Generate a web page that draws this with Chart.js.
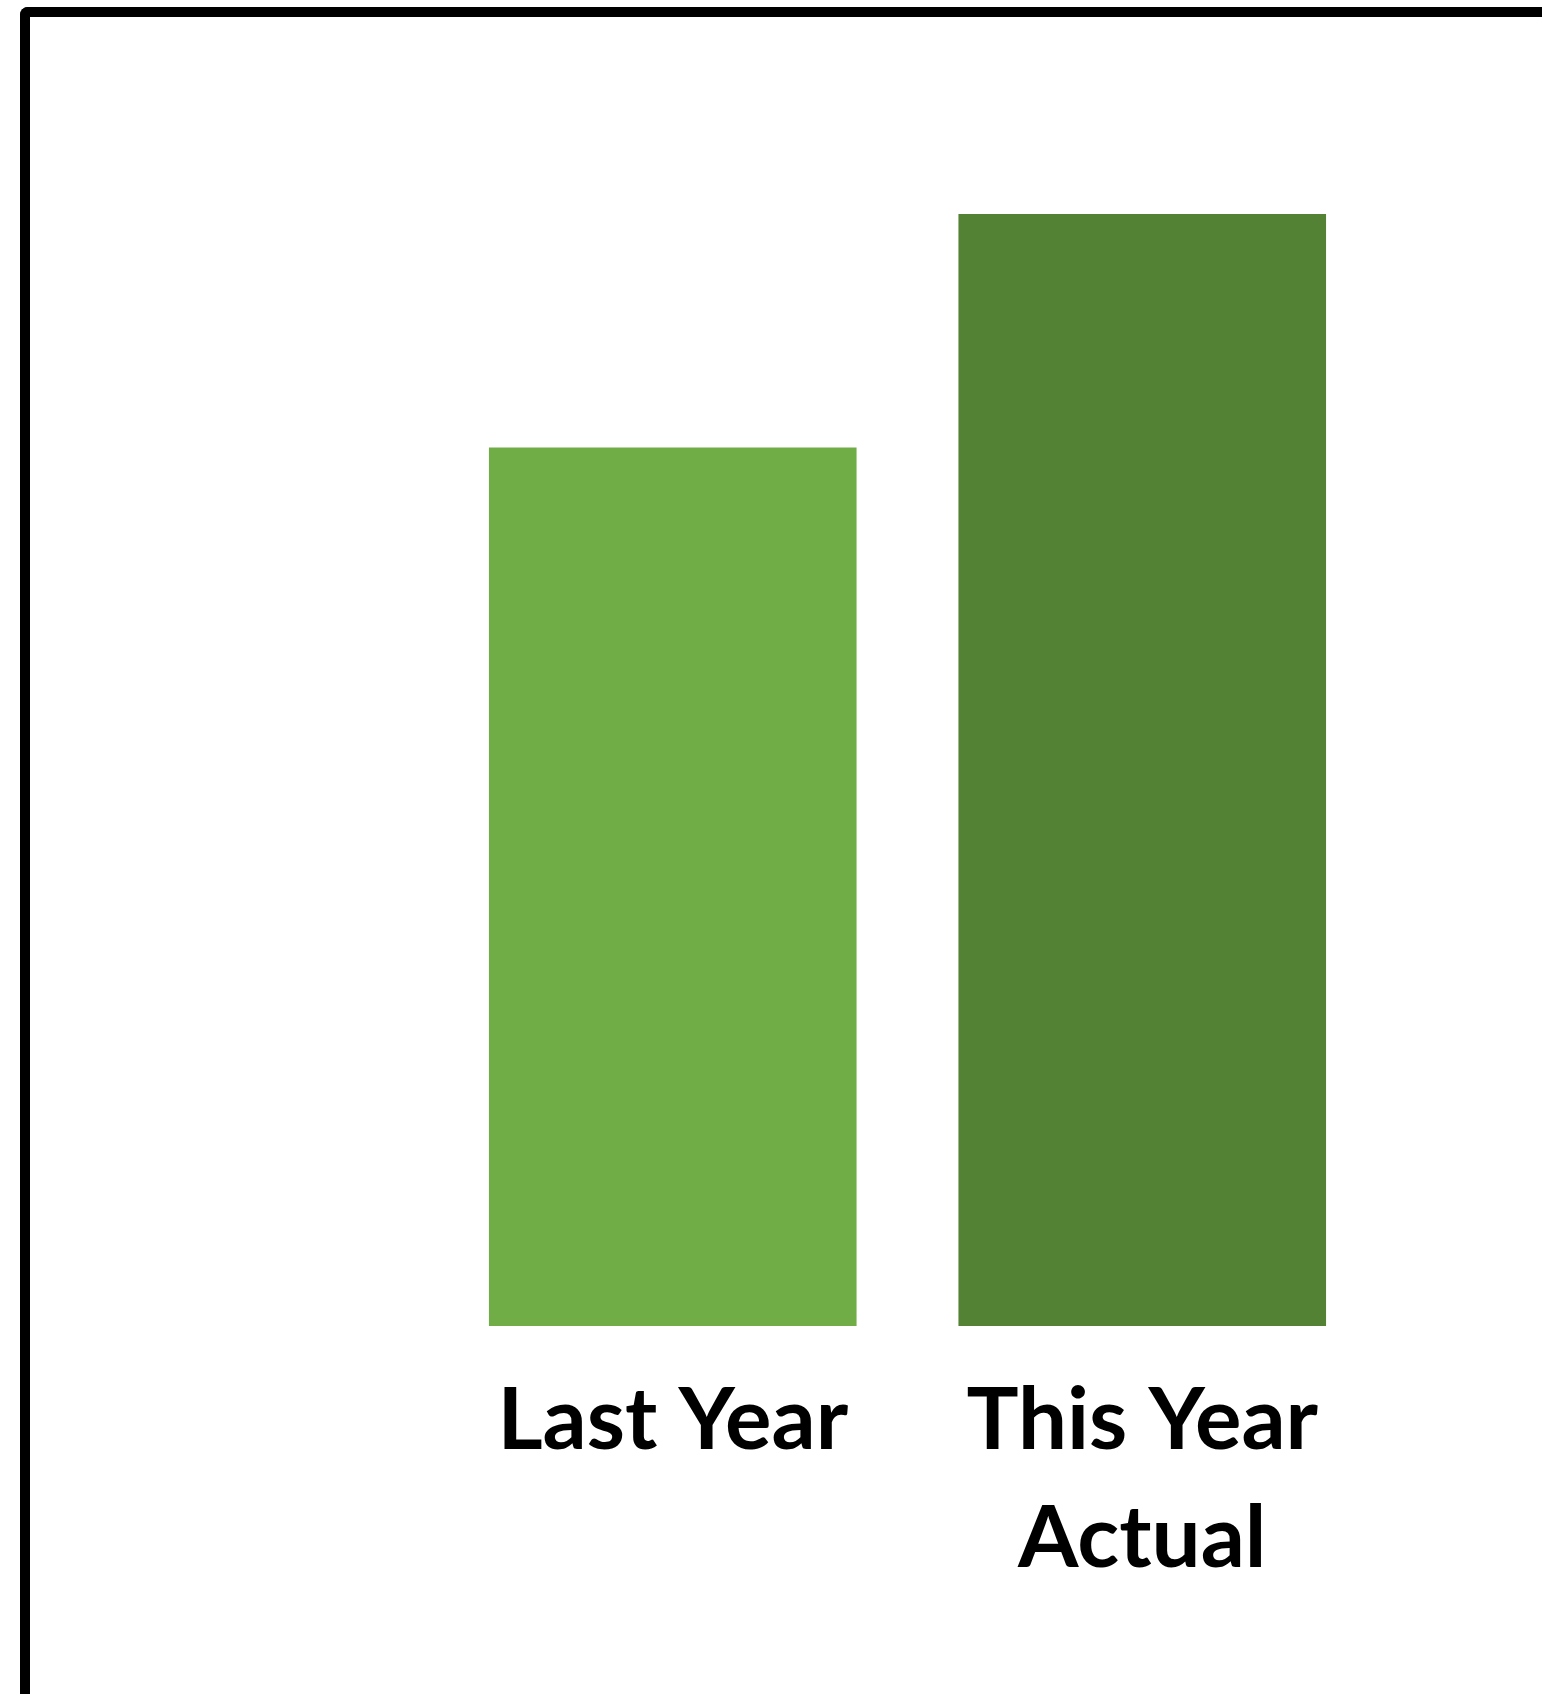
<!DOCTYPE html>
<html>
<head>
<meta charset="utf-8">
<script src="https://cdn.jsdelivr.net/npm/chart.js@4/dist/chart.umd.min.js"></script>
<style>
  html, body { margin: 0; padding: 0; background: #ffffff; }
  #wrap { position: relative; width: 1542px; height: 1694px; overflow: hidden; }
  /* open frame: only top and left edges are visible in the picture */
  #frame {
    position: absolute; left: 20px; top: 7px; width: 1600px; height: 1800px;
    border-top: 10px solid #000; border-left: 10px solid #000;
    border-top-left-radius: 8px;
    pointer-events: none;
  }
</style>
</head>
<body>
<div id="wrap">
  <canvas id="compare"></canvas>
  <div id="frame"></div>
</div>
<script>
// categories and values (no axis shown, relative scale)
var categories = ['Last Year', ['This Year', 'Actual']];
var values = [79, 100];
var barColors = ['#70AD47', '#548235'];

var ctx = document.getElementById('compare').getContext('2d');

var compareChart = new Chart(ctx, {
    type: 'bar',
    data: {
        labels: categories,
        datasets: [
            {
                data: values,
                backgroundColor: barColors,
                borderWidth: 0,
                barPercentage: 0.783,
                categoryPercentage: 1.0
            }
        ]
    },
    options: {
        responsive: true,
        maintainAspectRatio: false,
        animation: false,
        layout: {
            padding: { left: 438, right: 165, top: 214, bottom: 0 }
        },
        plugins: {
            legend: { display: false },
            tooltip: { enabled: false }
        },
        scales: {
            x: {
                border: { display: false },
                grid: { display: false, drawTicks: false },
                ticks: {
                    color: '#000000',
                    padding: 36,
                    autoSkip: false,
                    minRotation: 0,
                    maxRotation: 0,
                    font: { family: 'Lato', weight: 'bold', size: 87, lineHeight: '118px' }
                },
                afterFit: function (scale) { scale.height = 368; }
            },
            y: {
                display: false,
                min: 0,
                max: 100
            }
        }
    }
});
</script>
</body>
</html>
